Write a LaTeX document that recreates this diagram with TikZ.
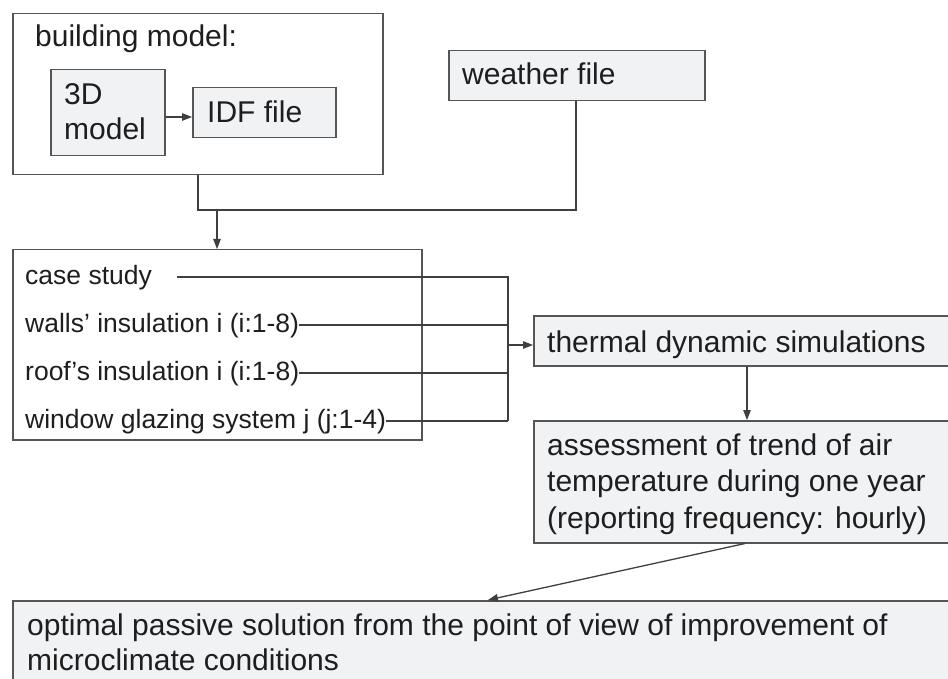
\documentclass[tikz,border=0pt]{standalone}
\usepackage{fontspec}
\setmainfont{Liberation Sans}
\usetikzlibrary{arrows.meta}
\definecolor{boxline}{HTML}{555555}
\definecolor{boxfill}{HTML}{F1F2F4}
\definecolor{wire}{HTML}{3F3F3F}
\definecolor{ink}{HTML}{1E1E1E}
\begin{document}
\begin{tikzpicture}[x=1pt,y=-1pt,
  frame/.style={draw=boxline,line width=1.5pt,anchor=north west,inner sep=0pt,
    minimum width=#1},
  plain/.style={frame=#1,fill=white},
  shaded/.style={frame=#1,fill=boxfill},
  big/.style={anchor=base west,inner sep=0pt,text=ink,font=\fontsize{30pt}{36pt}\selectfont},
  small/.style={anchor=base west,inner sep=0pt,text=ink,font=\fontsize{26.5pt}{32pt}\selectfont},
  wireline/.style={draw=wire,line width=1.3pt},
  arr/.style={wireline,-{Triangle[length=10pt,width=7.5pt]}}]
\fill[white] (0,0) rectangle (948,679);
\clip (0,0) rectangle (948,679);

% building model group
\node[plain=370pt,minimum height=161pt] (bm) at (12,13) {};
\node[shaded=114pt,minimum height=86pt] (m3d) at (50,69) {};
\node[shaded=143pt,minimum height=50pt] (idf) at (192,87) {};
\node[big] (bmtext) at (35,47) {building model:};
\node[big] (m3dA) at (64,105) {3D};
\node[big] (m3dB) at (64,140) {model};
\node[big] (idftext) at (207,123) {IDF file};

% weather file
\node[shaded=256pt,minimum height=50pt] (wf) at (448,50) {};
\node[big] (wftext) at (462,85) {weather file};

% parameter list
\node[plain=409pt,minimum height=190pt] (cs) at (12,249) {};
\node[small] (case) at (25,284) {case study};
\node[small] (walls) at (25,332) {walls’ insulation i (i:1-8)};
\node[small] (roof) at (25,380) {roof’s insulation i (i:1-8)};
\node[small] (window) at (25,428) {window glazing system j (j:1-4)};

% simulations and results
\node[shaded=440pt,minimum height=50pt] (tds) at (533,315) {};
\node[big] (tdstext) at (547,352) {thermal dynamic simulations};
\node[shaded=440pt,minimum height=122pt] (ass) at (533,420) {};
\node[big] (assA) at (547,455) {assessment of trend of air};
\node[big] (assB) at (547,491) {temperature during one year};
\node[big] (assC) at (547,528) {(reporting frequency: hourly)};
\node[shaded=960pt,minimum height=120pt] (opt) at (12,600) {};
\node[big] (optA) at (27,635) {optimal passive solution from the point of view of improvement of};
\node[big] (optB) at (27,670) {microclimate conditions};

% junction points
\coordinate (join) at (217,210);
\coordinate (bus) at (508,345);
\coordinate (caseend) at (177,277);

% connectors
\draw[arr] (m3d.east |- 0,117) -- (idf.west |- 0,117);
\draw[wireline] (bm.south -| 198,0) |- (join) -| (wf.south -| 576,0);
\draw[arr] (join) -- (cs.north -| join);
\draw[wireline] (caseend) -| (bus |- 0,421);
\draw[wireline] ([yshift=7pt]walls.base east) -- (bus |- 0,325);
\draw[wireline] ([yshift=7pt]roof.base east) -- (bus |- 0,373);
\draw[wireline] ([yshift=7pt]window.base east) -- (bus |- 0,421);
\draw[arr] (bus) -- (tds.west |- bus);
\draw[arr] (tds.south -| 747,0) -- (ass.north -| 747,0);
\draw[arr] (ass.south -| 745,0) -- (opt.north -| 488,0);
\end{tikzpicture}
\end{document}
